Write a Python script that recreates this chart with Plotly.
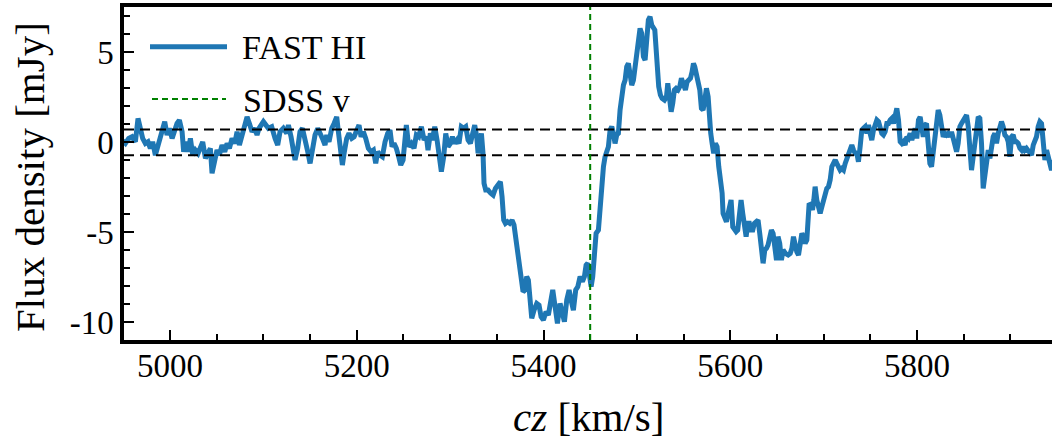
import plotly.graph_objects as go

# ---------------- data ----------------
velocity = [
    4949.0, 4952.2, 4955.7, 4959.3, 4962.9, 4965.7, 4968.2, 4970.7, 4973.6, 4976.4,
    4978.9, 4981.4, 4984.3, 4987.2, 4989.7, 4992.2, 4994.3, 4996.8, 4999.3, 5002.2,
    5005.0, 5007.5, 5010.0, 5012.9, 5014.6, 5017.1, 5019.3, 5021.8, 5024.3, 5027.1,
    5030.0, 5032.5, 5035.0, 5037.9, 5040.7, 5043.2, 5045.0, 5047.8, 5050.3, 5052.8,
    5055.7, 5058.6, 5061.1, 5063.6, 5066.4, 5069.3, 5071.8, 5074.3, 5077.1, 5080.0,
    5082.5, 5085.0, 5087.8, 5090.7, 5093.2,
    5095.3, 5100.0, 5105.3, 5108.9, 5112.5, 5115.3, 5117.8, 5121.4, 5125.0, 5126.8,
    5129.6, 5132.1, 5133.9, 5136.7, 5139.2, 5141.8, 5144.6, 5147.5, 5150.0, 5152.5,
    5155.3, 5158.2, 5160.7, 5163.2, 5166.0, 5167.8, 5170.3, 5173.2, 5175.7, 5178.5,
    5180.3, 5182.4, 5184.6, 5186.7, 5189.2, 5191.7, 5194.6, 5197.1, 5199.9, 5202.4,
    5204.6, 5207.1, 5209.6, 5212.4, 5215.3, 5217.8, 5220.3, 5222.4, 5224.9, 5227.4,
    5230.3, 5233.1, 5235.6,
    5237.8, 5239.9, 5242.4, 5244.9, 5247.1, 5249.6, 5251.4, 5253.1, 5255.6, 5258.5,
    5261.3, 5263.8, 5266.3, 5269.2, 5272.1, 5274.6, 5276.3, 5278.8, 5281.0, 5283.5,
    5286.0, 5288.1, 5290.6, 5293.1, 5295.3, 5297.8, 5300.3, 5302.4, 5304.9, 5307.4,
    5309.5, 5312.0, 5314.5, 5316.7, 5319.2, 5321.7, 5323.8, 5326.3, 5328.5, 5329.9,
    5331.7, 5333.5, 5335.2, 5336.3, 5338.1, 5340.6, 5343.5, 5346.0, 5348.5, 5351.3,
    5353.8, 5355.6, 5357.4, 5359.2, 5361.3, 5363.8, 5366.3, 5368.4, 5371.0, 5373.4,
    5376.3, 5378.1,
    5380.3, 5382.0, 5383.8, 5385.6, 5387.4, 5389.9, 5392.8, 5395.2, 5397.4, 5399.9,
    5402.7, 5405.2, 5407.7, 5409.9, 5412.4, 5414.9, 5417.7, 5420.2, 5422.4, 5424.9,
    5427.4, 5429.5, 5432.0, 5434.5, 5436.7, 5439.2, 5441.7, 5443.8, 5445.6, 5447.4,
    5449.2, 5451.0, 5452.7, 5454.5, 5456.3, 5458.8, 5460.6, 5462.4, 5464.2, 5465.9,
    5467.7, 5469.5, 5471.3, 5473.1, 5474.9, 5476.6, 5478.4, 5480.2, 5482.0, 5483.8,
    5485.6, 5487.4, 5489.1, 5490.9, 5492.7, 5494.5, 5496.3, 5498.1, 5499.9, 5501.6,
    5503.4, 5505.2, 5507.0, 5508.8, 5510.6, 5512.3, 5514.1, 5515.9,
    5519.2, 5520.6, 5522.0, 5523.4, 5525.2, 5527.0, 5529.5, 5531.7, 5533.1, 5534.9,
    5536.7, 5538.4, 5540.2, 5542.0, 5544.1, 5545.9, 5547.7, 5549.5, 5552.0, 5553.8,
    5555.6, 5557.4, 5559.1, 5560.6, 5562.0, 5563.8, 5565.6, 5567.4, 5569.1, 5570.9,
    5572.7, 5574.5, 5576.3, 5577.7, 5579.1, 5580.6, 5582.3, 5584.1, 5585.9, 5587.7,
    5589.5, 5591.3, 5592.3, 5594.1, 5595.9, 5597.7, 5599.5, 5600.9, 5602.7, 5604.5,
    5606.3, 5608.0, 5609.8, 5611.6, 5613.4, 5615.2, 5617.0, 5618.8, 5620.5, 5622.3,
    5624.1, 5625.9, 5628.0, 5629.8, 5631.6, 5633.4, 5635.2, 5637.0, 5638.8, 5640.5,
    5642.3, 5644.1, 5645.9, 5647.7, 5649.5, 5651.2, 5653.0, 5654.8, 5656.6, 5659.1,
    5662.0,
    5664.2, 5666.0, 5667.7, 5669.5, 5671.3, 5673.1, 5674.9, 5676.7, 5678.4, 5680.2,
    5682.0, 5683.1, 5684.5, 5686.3, 5688.1, 5689.5, 5690.9, 5692.7, 5694.5, 5696.3,
    5698.1, 5699.9, 5701.6, 5703.4, 5705.2, 5707.0, 5708.8, 5710.6, 5712.4, 5714.1,
    5715.9, 5717.7, 5719.5, 5721.3, 5723.1, 5724.8, 5726.6, 5728.4, 5730.2, 5732.0,
    5733.8, 5735.6, 5737.3, 5739.1, 5740.9, 5742.7, 5744.5, 5746.3, 5748.1, 5749.8,
    5751.6, 5753.4, 5755.2, 5757.0, 5758.8, 5760.5, 5762.3, 5764.1, 5765.9, 5767.7,
    5769.5, 5771.3, 5773.0, 5774.8, 5776.6, 5778.4, 5780.2, 5782.0, 5783.8, 5785.5,
    5787.3, 5789.1, 5790.9, 5792.7, 5794.5, 5796.2, 5798.0, 5799.8, 5801.6, 5803.4,
    5804.9, 5806.7, 5808.4, 5810.2, 5812.0, 5813.8, 5815.6, 5817.4, 5819.2, 5820.9,
    5822.7, 5824.5, 5826.3, 5828.1, 5829.9, 5831.6, 5833.4, 5835.2, 5837.0, 5838.8,
    5840.6, 5842.4, 5844.1, 5845.9, 5847.7, 5849.5, 5851.3, 5853.1, 5854.9, 5856.6,
    5858.4, 5860.2, 5862.0, 5863.8, 5865.6, 5867.3, 5869.1, 5870.9, 5872.7, 5874.5,
    5876.3, 5878.1, 5879.8, 5881.6, 5883.4, 5885.2, 5887.0, 5888.8, 5890.5, 5892.3,
    5894.1, 5895.9, 5897.7, 5899.5, 5901.3, 5903.0, 5904.8, 5906.6, 5908.4, 5910.2,
    5912.0, 5913.8, 5915.5, 5917.3, 5919.1, 5920.9, 5922.7, 5924.5, 5926.3, 5928.0,
    5929.8, 5931.6, 5933.4, 5935.2, 5937.0, 5938.8, 5940.6, 5942.4, 5944.1, 5947.0,
]

flux = [
    0.10, -0.06, 0.22, 0.31, 0.03, 1.33, 0.78, 0.22, -0.06, 0.03,
    -0.33, 0.03, -0.71, -0.15, 0.41, 0.68, 1.15, 0.41, 0.78, 0.22,
    0.68, 1.05, 1.24, 0.59, -0.52, 0.03, -0.52, 0.22, -0.71, -0.43,
    -0.61, -0.33, 0.03, -0.89, -0.52, -0.33, -1.72, -0.89, -0.43, -0.71,
    -0.15, -0.52, -0.06, -0.33, 0.22, -0.06, 0.59, -0.15, 0.41, 0.78,
    1.42, 1.05, 0.59, 0.78, 0.41,
    0.78, 1.15, 0.78, 0.87, 0.22, -0.15, 0.59, 0.78, 0.50, 0.96,
    0.31, -0.33, -0.98, -0.33, 0.59, 0.78, 0.22, -0.52, -1.17, -0.33,
    0.41, 0.78, 0.41, 0.22, -0.15, 0.41, 0.03, 0.78, 1.05, 1.42,
    0.59, -0.52, -1.26, -0.52, 0.22, 0.50, 0.22, 0.31, 0.68, 0.96,
    0.31, 0.59, 0.22, -0.33, -0.52, -0.43, -1.17, -0.52, -0.71, -0.80,
    0.03, 0.50, 0.68,
    -0.24, -0.06, -0.33, -0.80, -1.26, -0.98, 0.13, 0.96, -0.24, -0.06,
    -0.33, 0.41, 0.31, 0.87, 0.13, 0.31, -0.43, 0.50, 0.13, 0.87,
    0.13, -0.80, -1.63, -0.80, 0.50, -0.24, -0.06, 0.31, -0.06, 0.13,
    -0.06, 0.87, 0.78, 0.87, 0.13, -0.06, 0.50, 0.96, 0.31, -0.61,
    -0.06, 0.50, -0.61, -2.28, -2.65, -2.65, -2.83, -2.93, -2.56, -2.37,
    -2.19, -3.02, -4.32, -4.50, -4.41, -4.50, -4.32, -4.59, -5.61, -6.54,
    -7.47, -8.30,
    -8.20, -7.46, -7.65, -8.76, -9.78, -9.32, -8.95, -9.04, -9.69, -9.87,
    -9.41, -9.59, -8.95, -8.20, -9.13, -10.06, -8.95, -9.50, -9.96, -8.76,
    -8.20, -8.76, -9.32, -8.20, -8.02, -7.46, -7.74, -7.46, -6.82, -6.72,
    -7.65, -8.02, -7.46, -5.80, -5.06, -4.87, -3.58, -2.46, -1.35, -0.80,
    -0.43, -0.24, 0.68, 0.87, 0.50, -0.06, 0.41, 0.50, 1.80, 2.72,
    3.18, 3.46, 4.20, 4.39, 3.74, 3.18, 3.46, 4.20, 4.39, 5.50,
    6.33, 6.05, 4.76, 4.57, 5.50, 6.80, 6.98, 6.52,
    6.24, 5.13, 4.02, 3.09, 2.63, 2.44, 2.35, 2.54, 3.28, 2.54,
    1.70, 2.17, 2.91, 3.00, 2.91, 3.09, 3.56, 3.28, 2.91, 3.37,
    3.46, 3.56, 3.92, 4.39, 4.20, 3.65, 3.46, 2.91, 1.89, 1.80,
    2.35, 3.00, 2.54, 1.24, 0.50, -0.06, -0.61, -0.06, -0.24, -1.35,
    -1.91, -2.83, -3.95, -4.32, -4.41, -3.95, -3.30, -3.20, -4.69, -4.87,
    -4.96, -4.87, -3.95, -3.20, -3.95, -4.87, -5.24, -4.50, -4.50, -4.87,
    -4.87, -4.50, -4.41, -4.32, -5.06, -5.98, -6.72, -5.98, -5.89, -5.70,
    -5.24, -4.87, -5.06, -5.61, -6.54, -5.24, -5.61, -6.54, -5.98, -6.17,
    -6.26,
    -6.17, -5.89, -5.24, -5.80, -6.08, -6.26, -5.43, -5.06, -5.24, -5.61,
    -5.43, -3.58, -3.39, -3.48, -3.76, -3.21, -2.46, -3.21, -3.76, -3.95,
    -3.58, -3.21, -3.02, -2.56, -2.46, -2.09, -1.35, -1.08, -0.98, -1.17,
    -1.35, -1.54, -1.45, -1.54, -1.17, -0.89, -0.80, -0.43, -0.15, -0.43,
    -0.61, -0.61, -1.08, -0.24, 0.68, 0.78, 0.87, 0.50, 0.96, 0.50,
    0.13, 0.68, 0.96, 1.24, 1.15, 0.68, 0.50, 0.41, 0.59, 1.05,
    1.05, 1.24, 1.33, 1.05, 1.42, 1.89, 1.24, 0.04, -0.06, 0.04,
    -0.15, 0.31, 0.22, 0.50, 0.13, 0.41, 0.78, 0.22, 1.24, 1.42,
    0.87, 0.31, 0.96, 1.05, -0.06, -1.17, -1.35, -0.43, 0.68, 1.42,
    1.79, 1.52, 0.68, 0.31, 0.50, 0.41, 0.50, 0.31, 0.59, 0.13,
    -0.24, -0.52, -0.06, 0.87, 1.05, 1.24, 1.42, 1.52, 0.87, -0.80,
    -1.54, -0.80, 0.13, 0.96, 1.42, 1.33, -0.06, -2.56, -1.72, -0.71,
    -0.43, -0.89, -0.24, 0.31, 0.50, -0.06, 0.50, 0.87, 1.15, 0.87,
    0.41, 0.31, 0.04, -0.80, 0.31, 0.41, 0.04, 0.04, -0.06, -0.33,
    -0.43, -0.24, -0.43, -0.33, -0.43, -0.61, -0.71, -0.15, 0.04, 0.31,
    0.87, 1.15, 1.05, 0.31, -0.98, -0.43, -0.80, -1.35, -1.54, -1.00,
]

rms_level = 0.72          # +/- noise level (dashed black lines)
sdss_velocity = 5450      # SDSS optical velocity (dashed green line)

x_range = [4950.7, 5944.6]
y_range = [-10.98, 7.52]
x_tick_values = [5000, 5200, 5400, 5600, 5800]
x_tick_labels = ["5000", "5200", "5400", "5600", "5800"]
y_tick_values = [-10, -5, 0, 5]
y_tick_labels = ["-10", "-5", "0", "5"]
x_minor_values = list(range(4950, 5950, 50))
y_minor_values = list(range(-11, 8))

series_names = ["FAST HI", "SDSS v"]

# ---------------- figure ----------------
FONT = "'Liberation Serif', Tinos, 'Times New Roman', Times, 'DejaVu Serif', serif"
BLUE = "#1f77b4"
GREEN = "#008000"

fig = go.Figure()
fig.add_trace(go.Scatter(
    x=velocity, y=flux, mode="lines", name=series_names[0],
    line=dict(color=BLUE, width=5), showlegend=False,
))
# empty helper trace so the tick-label axis (x2) is drawn; it has no visible marks
fig.add_trace(go.Scatter(
    x=x_range, y=[None, None], xaxis="x2", yaxis="y", mode="lines",
    showlegend=False, hoverinfo="skip",
))

for level in (rms_level, -rms_level):
    fig.add_hline(y=level, line=dict(color="black", width=2, dash="10px,6px"))
fig.add_vline(x=sdss_velocity, line=dict(color=GREEN, width=2, dash="6px,4px"))

# legend (drawn manually to match the long line samples)
L, T, W, H = 124, 7, 928, 333
def px(x):
    return (x - L) / W
def py(y):
    return (T + H - y) / H

fig.add_shape(type="line", xref="paper", yref="paper",
              x0=px(150), x1=px(227), y0=py(46.7), y1=py(46.7),
              line=dict(color=BLUE, width=5))
fig.add_shape(type="line", xref="paper", yref="paper",
              x0=px(152), x1=px(226), y0=py(99), y1=py(99),
              line=dict(color=GREEN, width=2, dash="6px,4px"))
fig.add_annotation(text=series_names[0], xref="paper", yref="paper",
                   x=px(240), y=py(47.5), xanchor="left", yanchor="middle",
                   showarrow=False, font=dict(family=FONT, size=34, color="black"))
fig.add_annotation(text=series_names[1], xref="paper", yref="paper",
                   x=px(241), y=py(100.5), xanchor="left", yanchor="middle",
                   showarrow=False, font=dict(family=FONT, size=34, color="black"))

# axis titles
fig.add_annotation(text="<i>cz</i> [km/s]", xref="paper", yref="paper",
                   x=0.5, y=py(417), xanchor="center", yanchor="middle",
                   showarrow=False, font=dict(family=FONT, size=41, color="black"))
fig.add_annotation(text="Flux density [mJy]", xref="paper", yref="paper",
                   x=px(30), y=py(177), xanchor="center", yanchor="middle",
                   textangle=-90, showarrow=False,
                   font=dict(family=FONT, size=41, color="black"))

axis_common = dict(
    ticks="inside", ticklen=10, tickwidth=2, tickcolor="black",
    showline=True, linewidth=3.5, linecolor="black",
    showgrid=False, zeroline=False,
    tickfont=dict(family=FONT, size=33, color="black"),
)

# main x axis: spine and ticks (labels drawn by a companion axis)
fig.update_xaxes(
    range=x_range, tickmode="array", tickvals=x_tick_values, ticktext=x_tick_labels,
    mirror=True, showticklabels=False,
    minor=dict(tickmode="array", tickvals=x_minor_values, ticks="inside",
               ticklen=6, tickwidth=1.5, tickcolor="black", showgrid=False),
    **axis_common,
)
fig.update_layout(xaxis2=dict(
    overlaying="x", anchor="free", position=0, side="bottom",
    range=x_range, tickmode="array", tickvals=x_tick_values, ticktext=x_tick_labels,
    showline=False, ticks="", showgrid=False, zeroline=False, ticklabelstandoff=3,
    tickfont=dict(family=FONT, size=33, color="black"),
))
fig.update_yaxes(
    range=y_range, tickmode="array", tickvals=y_tick_values, ticktext=y_tick_labels,
    mirror=False,
    minor=dict(tickmode="array", tickvals=y_minor_values, ticks="inside",
               ticklen=6, tickwidth=1.5, tickcolor="black", showgrid=False),
    **axis_common,
)

fig.update_layout(
    width=1052, height=444,
    margin=dict(l=L, r=0, t=T, b=444 - T - H, autoexpand=False),
    plot_bgcolor="white", paper_bgcolor="white",
    showlegend=False,
    font=dict(family=FONT, color="black"),
)

fig.write_html("out.html")
